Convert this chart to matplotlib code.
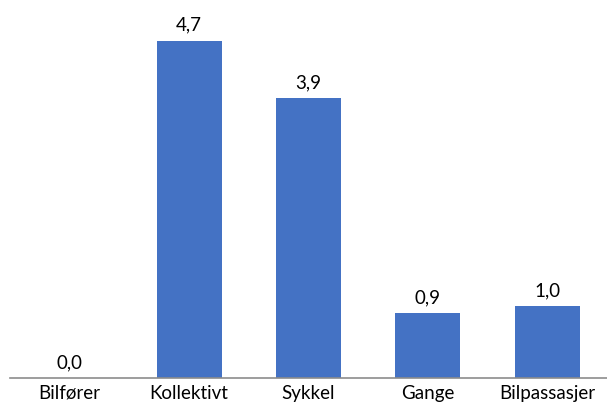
import matplotlib.pyplot as plt

# Gjennomsnittlig verdi per reisemiddel
kategorier = ['Bilfører', 'Kollektivt', 'Sykkel', 'Gange', 'Bilpassasjer']
verdier = [0.0, 4.7, 3.9, 0.9, 1.0]

plt.rcParams['font.family'] = ['Lato', 'DejaVu Sans']

fig = plt.figure(figsize=(6.07, 4.05), dpi=100)
ax = fig.add_axes([10 / 607, 27 / 405, 597 / 607, 359 / 405])

x = range(len(kategorier))
bars = ax.bar(x, verdier, width=0.545, color='#4472C4')

for b, v in zip(bars, verdier):
    ax.annotate(f'{v:.1f}'.replace('.', ','), (b.get_x() + b.get_width() / 2, v),
                xytext=(0, 5), textcoords='offset points',
                ha='center', va='bottom', fontsize=13.5, color='#000000')

ax.set_xlim(-0.5, 4.5)
ax.set_ylim(0, 5)
ax.set_xticks(list(x))
ax.set_xticklabels(kategorier, fontsize=13.5)
ax.tick_params(axis='x', length=0, pad=5)
ax.set_yticks([])
for s in ['top', 'right', 'left']:
    ax.spines[s].set_visible(False)
ax.spines['bottom'].set_color('#8c8c8c')
ax.spines['bottom'].set_linewidth(1.2)

fig.savefig('out.png', dpi=100)
